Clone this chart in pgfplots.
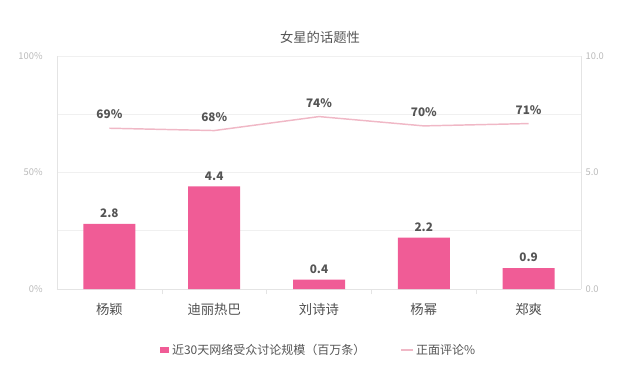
\documentclass[border=0pt]{standalone}
\usepackage{fontspec}
\setmainfont{Noto Sans CJK SC}
\usepackage{pgfplots}
\pgfplotsset{compat=1.18}
\definecolor{barpink}{RGB}{240,92,150}
\definecolor{linepink}{RGB}{240,184,198}
\definecolor{ticklab}{RGB}{185,185,185}
\definecolor{gridc}{RGB}{240,240,240}
\definecolor{axisc}{RGB}{228,228,228}
\definecolor{labc}{RGB}{85,85,85}
\definecolor{catc}{RGB}{80,80,80}
\begin{document}
\begin{tikzpicture}
\path[use as bounding box] (0pt,0pt) rectangle (480pt,284.25pt);
\node[font=\fontsize{10pt}{12pt}\selectfont, text=labc] at (240pt,256.5pt) {女星的话题性};
% left axis: line
\begin{axis}[
  at={(42.75pt,67.5pt)}, anchor=south west,
  width=393pt, height=174.75pt, scale only axis,
  /pgf/number format/assume math mode=true,
  xmin=-0.5, xmax=4.5, ymin=0, ymax=100,
  axis x line*=bottom, axis y line*=left,
  axis line style={axisc}, 
  xtick={0,1,2,3,4},
  xticklabels={杨颖,迪丽热巴,刘诗诗,杨幂,郑爽},
  minor xtick={0.5,1.5,2.5,3.5},
  major x tick style={draw=none},
  minor x tick style={axisc},
  minor tick length=4pt,
  tick align=outside,
  x tick label style={font=\fontsize{10pt}{12pt}\selectfont, text=catc, yshift=-3pt},
  ytick={0,50,100},
  yticklabels={0\%,50\%,100\%},
  minor ytick={25,75},
  major y tick style={draw=none},
  minor y tick style={draw=none},
  y tick label style={font=\fontsize{7pt}{8pt}\selectfont, text=ticklab, xshift=-3pt},
  ymajorgrids, yminorgrids,
  major grid style={gridc},
  minor grid style={gridc},
  clip=false,
]
\addplot[draw=linepink, line width=1.1pt,
  nodes near coords={\pgfmathprintnumber{\pgfplotspointmeta}\%},
  point meta=explicit,
  every node near coord/.append style={font=\bfseries\fontsize{8.8pt}{10pt}\selectfont, text=labc, yshift=3pt}]
  table[meta=y] {
x y
0 69
1 68
2 74
3 70
4 71
};
\end{axis}
% right axis: bars
\begin{axis}[
  at={(42.75pt,67.5pt)}, anchor=south west,
  width=393pt, height=174.75pt, scale only axis,
  /pgf/number format/assume math mode=true,
  xmin=-0.5, xmax=4.5, ymin=0, ymax=10,
  axis y line*=right, hide x axis,
  axis line style={axisc},
  ytick={0,5,10},
  yticklabels={0.0,5.0,10.0},
  major y tick style={draw=none},
  y tick label style={font=\fontsize{7pt}{8pt}\selectfont, text=ticklab},
  legend columns=2,
  legend style={at={(0.5,-0.262)}, anchor=center, draw=none, fill=none,
    font=\fontsize{9pt}{10pt}\selectfont, text=labc,
    /tikz/every even column/.append style={column sep=24pt}},
  clip=false,
]
\addplot[ybar, bar width=39pt, fill=barpink, draw=none,
  nodes near coords={\pgfmathprintnumber[fixed,fixed zerofill,precision=1]{\pgfplotspointmeta}},
  every node near coord/.append style={font=\bfseries\fontsize{8.8pt}{10pt}\selectfont, text=labc, yshift=1pt},
  legend image code/.code={\fill[barpink] (0pt,-2.4pt) rectangle (7pt,2.4pt);}]
  coordinates {(0,2.8) (1,4.4) (2,0.4) (3,2.2) (4,0.9)};
\addlegendentry{近30天网络受众讨论规模（百万条）}
\addlegendimage{draw=linepink, line width=1.1pt, legend image code/.code={\draw[linepink, line width=1.1pt] (0pt,0pt) -- (9pt,0pt);}}
\addlegendentry{正面评论\%}
\end{axis}
\end{tikzpicture}
\end{document}
